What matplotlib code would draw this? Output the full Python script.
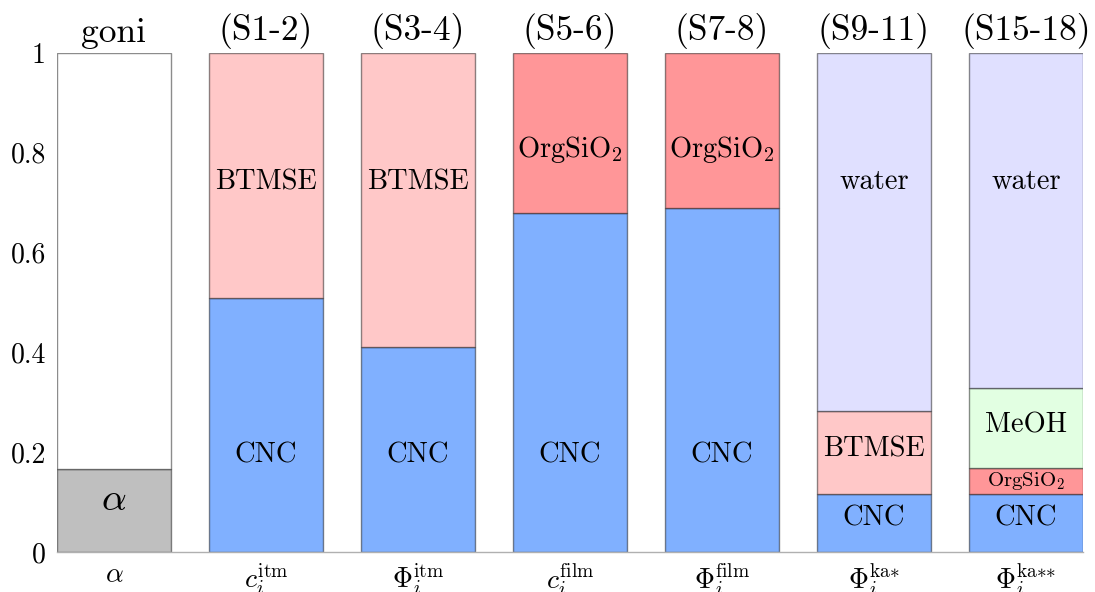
import matplotlib
matplotlib.use("Agg")
import matplotlib.pyplot as plt
import numpy as np

plt.rcParams["font.family"] = "cmr10"
plt.rcParams["mathtext.fontset"] = "cm"
plt.rcParams["axes.unicode_minus"] = False

# ---- data -------------------------------------------------------------
titles = ["goni", "(S1-2)", "(S3-4)", "(S5-6)", "(S7-8)", "(S9-11)", "(S15-18)"]
xlabels = [r"$\alpha$", r"$c_i^{\mathrm{itm}}$", r"$\Phi_i^{\mathrm{itm}}$",
           r"$c_i^{\mathrm{film}}$", r"$\Phi_i^{\mathrm{film}}$",
           r"$\Phi_i^{\mathrm{ka}{*}}$", r"$\Phi_i^{\mathrm{ka}{*}{*}}$"]

alpha_part = [0.167, 0, 0, 0, 0, 0, 0]
rest_part = [0.833, 0, 0, 0, 0, 0, 0]
cnc = [0, 0.51, 0.41, 0.68, 0.69, 0.116, 0.116]
btmse = [0, 0.49, 0.59, 0, 0, 0.166, 0]
orgsio2 = [0, 0, 0, 0.32, 0.31, 0, 0.052]
meoh = [0, 0, 0, 0, 0, 0, 0.16]
water = [0, 0, 0, 0, 0, 0.718, 0.672]

yticks = [0, 0.2, 0.4, 0.6, 0.8, 1]
ytick_labels = ["0", "0.2", "0.4", "0.6", "0.8", "1"]

# ---- styling ----------------------------------------------------------
components = [
    ("alpha", alpha_part, "#bfbfbf", r"$\alpha$"),
    ("rest", rest_part, "#ffffff", None),
    ("cnc", cnc, "#80b0ff", "CNC"),
    ("btmse", btmse, "#ffc8c8", "BTMSE"),
    ("orgsio2", orgsio2, "#ff9698", r"OrgSiO$_2$"),
    ("meoh", meoh, "#e2ffe2", "MeOH"),
    ("water", water, "#e0e0ff", "water"),
]

# label heights inside each bar (axis units) and font sizes
label_y = {
    ("alpha", 0): 0.105,
    ("cnc", 1): 0.194, ("cnc", 2): 0.194, ("cnc", 3): 0.194, ("cnc", 4): 0.194,
    ("cnc", 5): 0.068, ("cnc", 6): 0.068,
    ("btmse", 1): 0.741, ("btmse", 2): 0.741, ("btmse", 5): 0.206,
    ("orgsio2", 3): 0.806, ("orgsio2", 4): 0.806, ("orgsio2", 6): 0.143,
    ("meoh", 6): 0.254,
    ("water", 5): 0.741, ("water", 6): 0.741,
}
label_size = {("alpha", 0): 28, ("orgsio2", 6): 15}

fig = plt.figure(figsize=(10.95, 5.92), dpi=100)
ax = fig.add_axes([57 / 1095, 40 / 592, 1026 / 1095, 499 / 592])

x = np.arange(len(titles))
width = 0.75
bottom = np.zeros(len(titles))
for key, vals, color, text in components:
    vals = np.asarray(vals, dtype=float)
    for i, v in enumerate(vals):
        if v <= 0:
            continue
        ax.bar(x[i], v, width=width, bottom=bottom[i], color=color,
               edgecolor=(0, 0, 0, 0.45), linewidth=1.0, zorder=2)
        if text is not None and (key, i) in label_y:
            ax.text(x[i], label_y[(key, i)], text, ha="center", va="center",
                    fontsize=label_size.get((key, i), 20.5), zorder=3)
    bottom += vals

for i, t in enumerate(titles):
    ax.annotate(t, (x[i], 1.0), xytext=(0, 3), textcoords="offset points",
                ha="center", va="bottom", fontsize=25.5, annotation_clip=False)

ax.set_xlim(-width / 2, len(titles) - 1 + width / 2)
ax.set_ylim(0, 1)
ax.set_xticks(x)
ax.set_xticklabels(xlabels, fontsize=20)
ax.set_yticks(yticks)
ax.set_yticklabels(ytick_labels, fontsize=20)
ax.tick_params(axis="both", length=0)
ax.tick_params(axis="y", pad=8)
ax.tick_params(axis="x", pad=7)
for s in ["top", "right", "left"]:
    ax.spines[s].set_visible(False)
ax.spines["bottom"].set_color("#b0b0b0")
ax.spines["bottom"].set_linewidth(1.0)

fig.savefig("out.png", dpi=100)
